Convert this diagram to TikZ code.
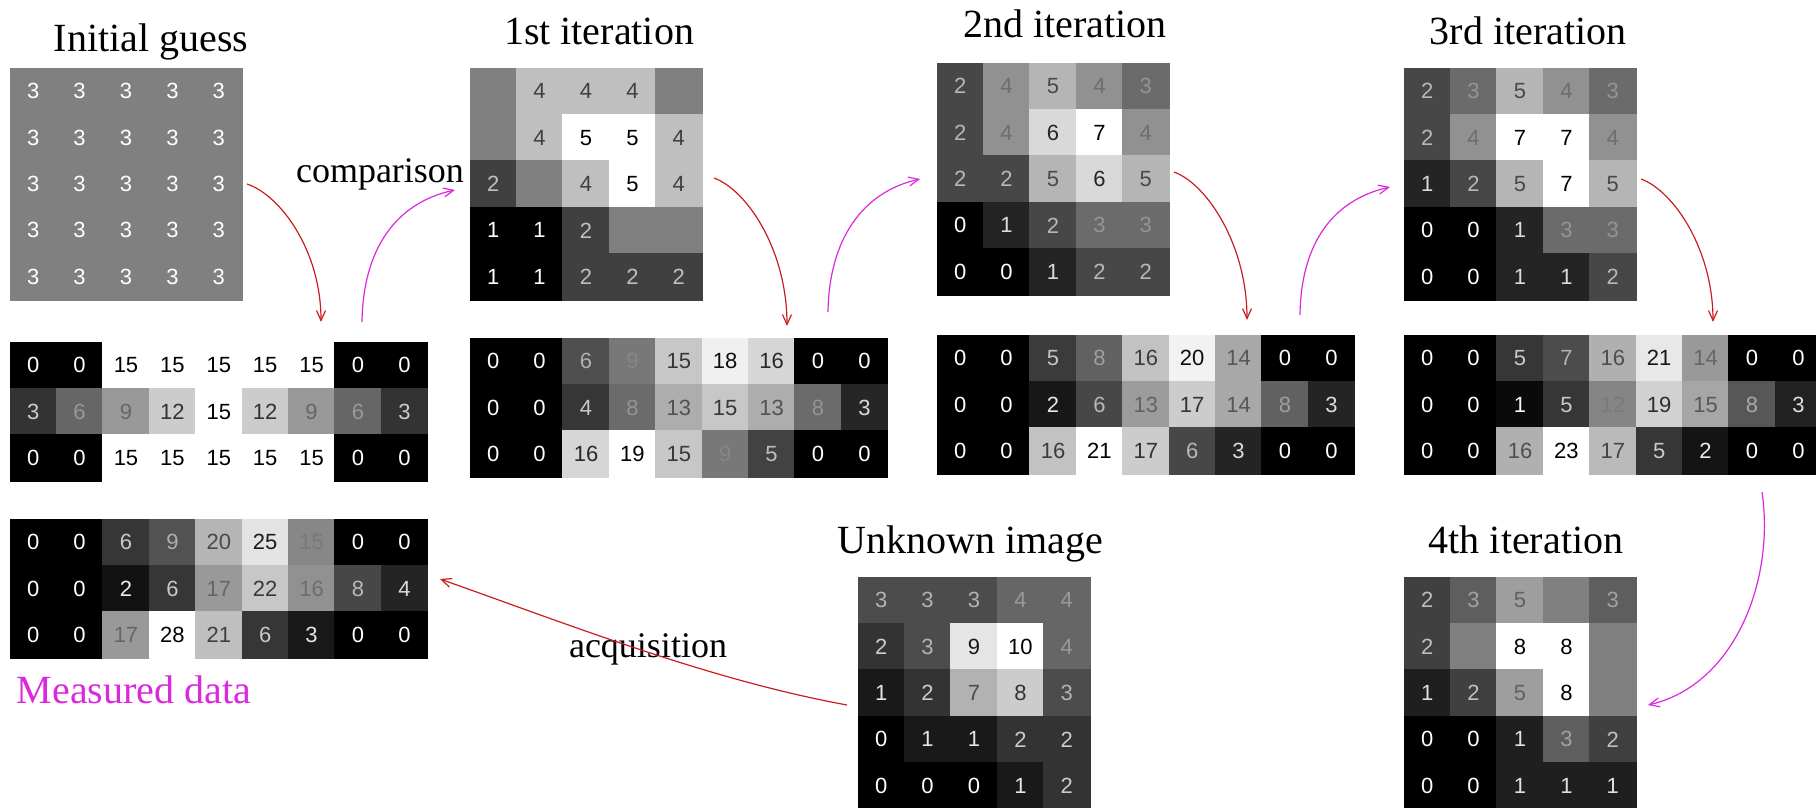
\documentclass[tikz,border=0pt]{standalone}
\usepackage{fontspec}
\setmainfont{Liberation Serif}
\newfontfamily\digitfont{Liberation Sans}
\usetikzlibrary{arrows.meta}

\definecolor{simred}{RGB}{200,30,30}
\definecolor{updmag}{RGB}{220,40,220}

\newcommand{\cw}{46.4}
% grid of grey pixels: name, left, top, min, max, rows
\newcommand{\pixgrid}[6]{%
  \foreach \row [count=\rr] in {#6} {
    \foreach \val [count=\cc] in \row {
      \pgfmathtruncatemacro\gv{100*(\val-(#4))/((#5)-(#4))}
      \node[pix, fill=white!\gv!black, draw=white!\gv!black, text=black!\gv!white]
        (#1-\rr-\cc) at ({#2+(\cc-0.5)*\cw},{#3+(\rr-0.5)*\cw}) {\val};
    }
  }
}

\begin{document}
\begin{tikzpicture}[x=0.5pt, y=-0.5pt,
  pix/.style={minimum size=23.2pt, inner sep=0pt, line width=0.4pt,
    font=\digitfont\fontsize{11}{11}\selectfont},
  heading/.style={anchor=base, font=\fontsize{20}{24}\selectfont},
  note/.style={anchor=base, font=\fontsize{18}{22}\selectfont},
  redarr/.style={draw=simred, line width=0.6pt, -{Straight Barb[length=5pt,width=4.5pt]}},
  magarr/.style={draw=updmag, line width=0.6pt, -{Straight Barb[length=5pt,width=4.5pt]}}]

% titles
\node[heading] (t-init) at (151,52) {Initial guess};
\node[heading] (t-it1) at (599,45) {1st iteration};
\node[heading] (t-it2) at (1065,38) {2nd iteration};
\node[heading] (t-it3) at (1528,45) {3rd iteration};
\node[heading] (t-unk) at (970,553) {Unknown image};
\node[heading] (t-it4) at (1526,553) {4th iteration};
\node[heading, text=updmag] (t-meas) at (134,703) {Measured data};
\node[note] (t-comp) at (380,183) {comparison};
\node[note] (t-acq) at (648,657) {acquisition};

% initial guess
\foreach \rr in {1,...,5}
  \foreach \cc in {1,...,5}
    \node[pix, fill=black!50, draw=black!50, text=white] (init-\rr-\cc)
      at ({10+(\cc-0.5)*\cw},{68+(\rr-0.5)*\cw}) {3};

% reconstructions
\pixgrid{it1}{470}{68}{1}{5}{{3,4,4,4,3},{3,4,5,5,4},{2,3,4,5,4},{1,1,2,3,3},{1,1,2,2,2}}
\pixgrid{it2}{937}{63}{0}{7}{{2,4,5,4,3},{2,4,6,7,4},{2,2,5,6,5},{0,1,2,3,3},{0,0,1,2,2}}
\pixgrid{it3}{1404}{68}{0}{7}{{2,3,5,4,3},{2,4,7,7,4},{1,2,5,7,5},{0,0,1,3,3},{0,0,1,1,2}}
\pixgrid{it4}{1404}{577}{0}{8}{{2,3,5,4,3},{2,4,8,8,4},{1,2,5,8,4},{0,0,1,3,2},{0,0,1,1,1}}
\pixgrid{unk}{858}{577}{0}{10}{{3,3,3,4,4},{2,3,9,10,4},{1,2,7,8,3},{0,1,1,2,2},{0,0,0,1,2}}

% projections
\pixgrid{row0}{10}{342}{0}{15}{{0,0,15,15,15,15,15,0,0},{3,6,9,12,15,12,9,6,3},{0,0,15,15,15,15,15,0,0}}
\pixgrid{row1}{470}{338}{0}{19}{{0,0,6,9,15,18,16,0,0},{0,0,4,8,13,15,13,8,3},{0,0,16,19,15,9,5,0,0}}
\pixgrid{row2}{937}{335}{0}{21}{{0,0,5,8,16,20,14,0,0},{0,0,2,6,13,17,14,8,3},{0,0,16,21,17,6,3,0,0}}
\pixgrid{row3}{1404}{335}{0}{23}{{0,0,5,7,16,21,14,0,0},{0,0,1,5,12,19,15,8,3},{0,0,16,23,17,5,2,0,0}}
\pixgrid{meas}{10}{519}{0}{28}{{0,0,6,9,20,25,15,0,0},{0,0,2,6,17,22,16,8,4},{0,0,17,28,21,6,3,0,0}}

% arrow ends
\coordinate (init-out) at (247,184);
\coordinate (row0-in) at (321,322);
\coordinate (row0-out) at (362,322);
\coordinate (it1-in) at (455,190);
\coordinate (it1-out) at (714,178);
\coordinate (row1-in) at (787,326);
\coordinate (row1-out) at (828,312);
\coordinate (it2-in) at (920,179);
\coordinate (it2-out) at (1174,172);
\coordinate (row2-in) at (1247,320);
\coordinate (row2-out) at (1300,315);
\coordinate (it3-in) at (1390,187);
\coordinate (it3-out) at (1641,179);
\coordinate (row3-in) at (1713,322);
\coordinate (row3-out) at (1762,492);
\coordinate (it4-in) at (1648,705);
\coordinate (unk-out) at (847,705);
\coordinate (meas-in) at (440,579);

\draw[redarr] (init-out) .. controls +(33,11) and +(0,-72) .. (row0-in);
\draw[magarr] (row0-out) .. controls +(1,-72) and +(-60,13) .. (it1-in);
\draw[redarr] (it1-out) .. controls +(33,12) and +(0,-76) .. (row1-in);
\draw[magarr] (row1-out) .. controls +(1,-72) and +(-58,13) .. (it2-in);
\draw[redarr] (it2-out) .. controls +(33,12) and +(0,-75) .. (row2-in);
\draw[magarr] (row2-out) .. controls +(1,-72) and +(-57,13) .. (it3-in);
\draw[redarr] (it3-out) .. controls +(33,12) and +(0,-72) .. (row3-in);
\draw[magarr] (row3-out) .. controls +(13,88) and +(87,-20) .. (it4-in);
\draw[redarr] (unk-out) .. controls +(-137,-25) and +(130,46) .. (meas-in);

\pgfresetboundingbox
\useasboundingbox (0,0) rectangle (1816,808);
\end{tikzpicture}
\end{document}
